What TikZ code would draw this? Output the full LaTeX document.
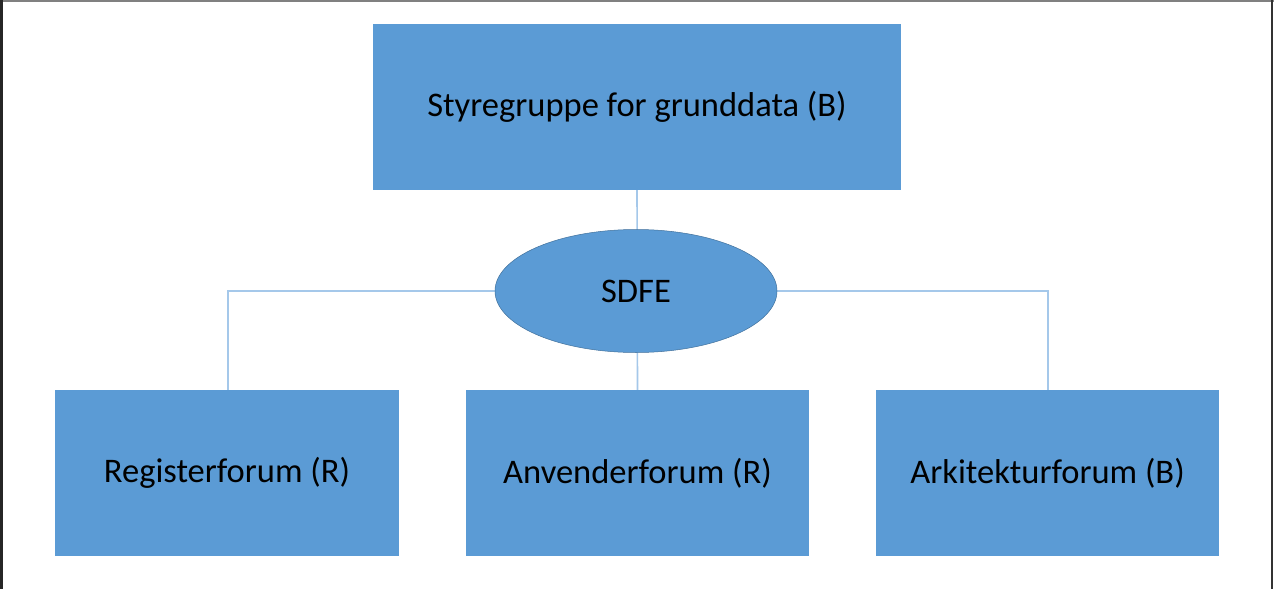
\documentclass[tikz,border=0pt]{standalone}
\usepackage{fontspec}
\setmainfont{Carlito}
\usetikzlibrary{shapes.geometric}
\definecolor{boxblue}{HTML}{5B9BD5}
\definecolor{linkblue}{HTML}{A5C8EA}
\definecolor{ellborder}{HTML}{41719C}
\tikzset{
  orgbox/.style={draw=none, fill=boxblue, rectangle, inner sep=0pt, font=\fontsize{34.5}{40}\selectfont, text=black},
  orgell/.style={draw=ellborder, line width=0.5pt, fill=boxblue, ellipse, inner sep=0pt, font=\fontsize{34.5}{40}\selectfont, text=black},
  link/.style={draw=linkblue, line width=1.6pt}
}
\begin{document}
\begin{tikzpicture}[x=1pt,y=-1pt]
\useasboundingbox (0,0) rectangle (1274,589);
\fill[white] (0,0) rectangle (1274,589);
% frame
\draw[gray, line width=2pt] (0,1) -- (1274,1);
\draw[black!85, line width=3pt] (1.5,0) -- (1.5,589);
\draw[black!80, line width=2pt] (1272,0) -- (1272,589);
% nodes
\node[orgbox, minimum width=528pt, minimum height=166pt] (top) at (637,107) {Styregruppe for grunddata (B)};
\node[orgbox, minimum width=344pt, minimum height=166pt] (reg) at (227,473) {Registerforum (R)};
\node[orgbox, minimum width=343pt, minimum height=166pt] (anv) at (637.5,473) {Anvenderforum (R)};
\node[orgbox, minimum width=343pt, minimum height=166pt] (ark) at (1047.5,473) {Arkitekturforum (B)};
\coordinate (hl) at (228,291);
\coordinate (hr) at (1048,291);
% connectors (behind ellipse)
\draw[link] (top.south) -- (anv.north);
\draw[link] (reg.north -| hl) -- (hl) -- (hr) -- (ark.north -| hr);
\node[orgell, minimum width=282pt, minimum height=123pt] (sdfe) at (636,291) {SDFE};
\end{tikzpicture}
\end{document}
